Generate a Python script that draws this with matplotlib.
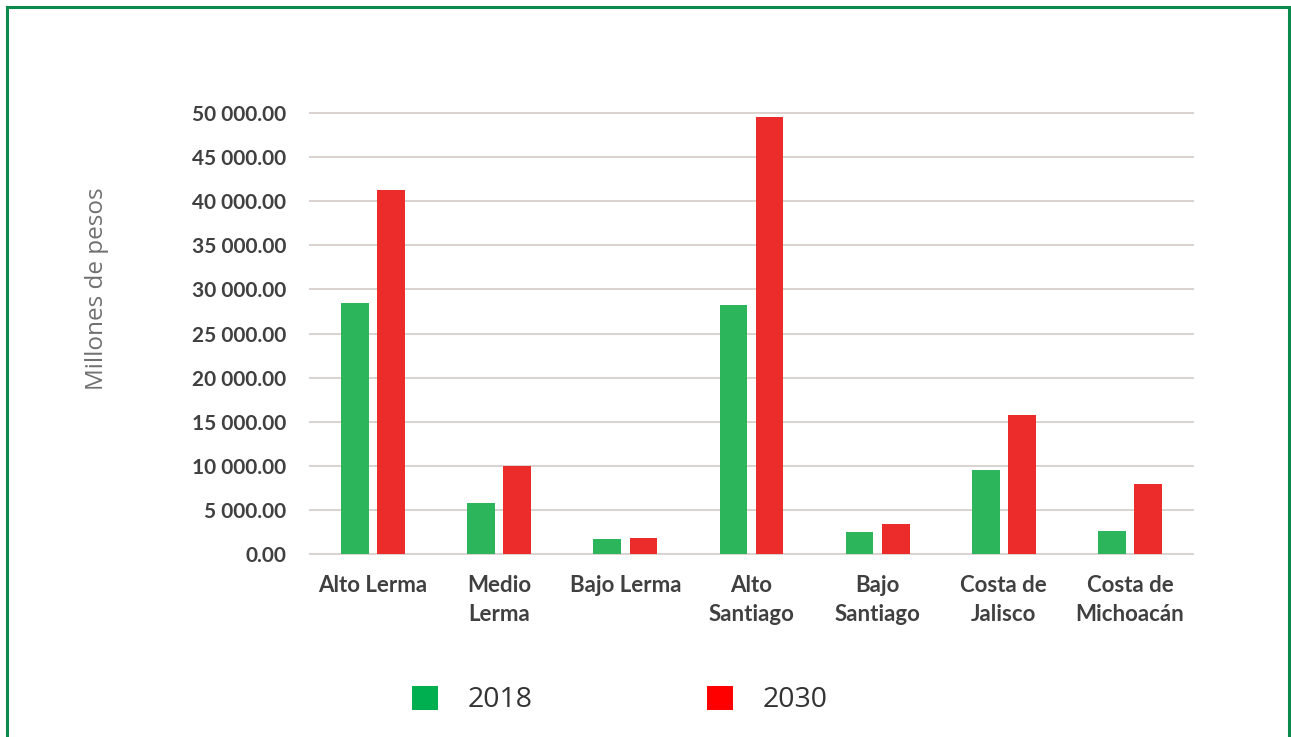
import numpy as np
import matplotlib.pyplot as plt
from matplotlib.patches import Patch, Rectangle

# Costo por subregión, millones de pesos
regiones = ["Alto Lerma", "Medio\nLerma", "Bajo Lerma", "Alto\nSantiago",
            "Bajo\nSantiago", "Costa de\nJalisco", "Costa de\nMichoacán"]
valores_2018 = [28500, 5800, 1750, 28200, 2500, 9500, 2600]
valores_2030 = [41300, 10000, 1850, 49500, 3400, 15800, 7900]
yticks = np.arange(0, 50001, 5000)

verde_barra = "#2cb55b"
rojo_barra = "#ec2b2b"

W, H = 1291, 737
fig = plt.figure(figsize=(W / 100, H / 100), dpi=100)

ax = fig.add_axes([310 / W, 1 - 554 / H, (1193 - 310) / W, (554 - 113) / H])

x = np.arange(len(regiones))
ancho = 0.22
ax.bar(x - 0.143, valores_2018, ancho, color=verde_barra, zorder=3)
ax.bar(x + 0.143, valores_2030, ancho, color=rojo_barra, zorder=3)

ax.set_xlim(-0.5, len(regiones) - 0.5)
ax.set_ylim(0, 50000)
ax.set_yticks(yticks)
ax.set_yticklabels([f"{v:,.2f}".replace(",", " ") for v in yticks])
ax.set_xticks(x)
ax.set_xticklabels(regiones, linespacing=1.5)

for lbl in ax.get_yticklabels():
    lbl.set_fontfamily("Lato")
    lbl.set_fontweight("bold")
    lbl.set_fontsize(15)
    lbl.set_color("#404040")
for lbl in ax.get_xticklabels():
    lbl.set_fontfamily("Lato")
    lbl.set_fontweight("bold")
    lbl.set_fontsize(16)
    lbl.set_color("#404040")

ax.tick_params(axis="y", length=0, pad=17)
ax.tick_params(axis="x", length=0, pad=15)
ax.grid(axis="y", color="#d9d2ce", linewidth=1.4, zorder=0)
for sp in ax.spines.values():
    sp.set_visible(False)
for gl in ax.get_ygridlines():
    gl.set_clip_on(False)

fig.text(97 / W, 1 - 289 / H, "Millones de pesos", rotation=90,
         ha="center", va="center", fontsize=17.5, family="Open Sans",
         color="#707070")

handles = [Patch(facecolor="#00b050", edgecolor="none", label="2018"),
           Patch(facecolor="#ff0000", edgecolor="none", label="2030")]
leg = fig.legend(handles=handles, loc="center left",
                 bbox_to_anchor=(412 / W, 1 - 700 / H), ncol=2, frameon=False,
                 borderpad=0, borderaxespad=0, handlelength=0.92,
                 handleheight=0.92, handletextpad=1.05, columnspacing=6.1,
                 prop={"family": "Open Sans", "size": 20.5})
for t in leg.get_texts():
    t.set_color("#333333")

# marco verde
fig.add_artist(Rectangle((7 / W, -0.05), (1289 - 7) / W, 1.05 - 7 / H,
                         transform=fig.transFigure, fill=False,
                         edgecolor="#0b8a4e", linewidth=2.2))

fig.savefig("out.png", dpi=100, facecolor="white")
